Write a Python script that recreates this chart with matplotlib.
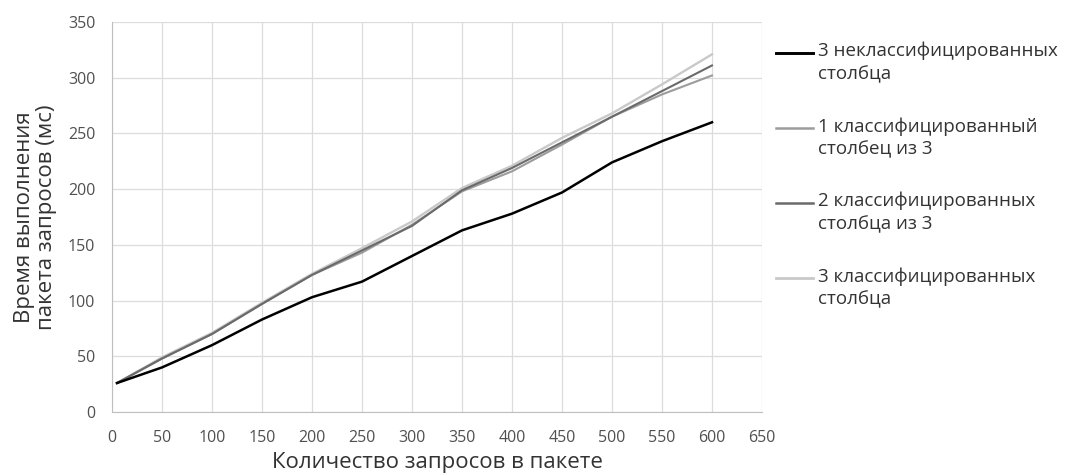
import matplotlib.pyplot as plt
from matplotlib.lines import Line2D

plt.rcParams['font.family'] = ['Open Sans', 'DejaVu Sans']

# requests per batch
x = [5, 50, 100, 150, 200, 250, 300, 350, 400, 450, 500, 550, 600]

# execution time, ms
unclassified_3 = [26, 40, 60, 83, 103, 117, 140, 163, 178, 197, 224, 243, 260]
classified_1_of_3 = [26, 48, 70, 97, 123, 143, 168, 198, 216, 240, 265, 285, 302]
classified_2_of_3 = [26, 48, 70, 97, 123, 145, 167, 199, 219, 242, 265, 288, 311]
classified_3 = [26, 49, 71, 98, 124, 147, 171, 201, 221, 246, 268, 294, 321]

labels = ["3 неклассифицированных\nстолбца",
          "1 классифицированный\nстолбец из 3",
          "2 классифицированных\nстолбца из 3",
          "3 классифицированных\nстолбца"]
colors = ["#000000", "#9c9c9c", "#6a6a6a", "#c9c9c9"]
widths = [1.8, 1.5, 1.5, 1.7]

fig = plt.figure(figsize=(10.69, 4.75), dpi=100)
ax = fig.add_axes([112 / 1069, 1 - 412 / 475, 650 / 1069, 390 / 475])

series = [unclassified_3, classified_1_of_3, classified_2_of_3, classified_3]
for i in [3, 1, 2, 0]:
    ax.plot(x, series[i], color=colors[i], lw=widths[i], solid_joinstyle='round')

ax.set_xlim(0, 650)
ax.set_ylim(0, 350)
ax.set_xticks(range(0, 651, 50))
ax.set_yticks(range(0, 351, 50))
ax.grid(True, color="#dcdcdc", lw=0.9)
ax.set_axisbelow(True)
for s in ["top", "right"]:
    ax.spines[s].set_visible(False)
for s in ["left", "bottom"]:
    ax.spines[s].set_color("#bfbfbf")
ax.tick_params(length=0, labelsize=11.5, labelcolor="#505050")
ax.tick_params(axis="x", pad=13)
ax.tick_params(axis="y", pad=12)

ax.set_xlabel("Количество запросов в пакете", fontsize=16, color="#333333", labelpad=4)
ax.set_ylabel("Время выполнения\nпакета запросов (мс)", fontsize=16, color="#333333",
              labelpad=8, linespacing=1.05)

# legend drawn at the right, handle beside the first line of each label
y0 = 1 - 53 / 475
step = 75 / 475
for i in range(4):
    yy = y0 - i * step
    fig.add_artist(Line2D([776 / 1069, 813 / 1069], [yy, yy], color=colors[i],
                          lw=widths[i] + 0.3, transform=fig.transFigure))
    fig.text(818 / 1069, yy + 11 / 475, labels[i], fontsize=13.5, color="#333333",
             va="top", ha="left", linespacing=1.35)

fig.savefig("out.png", dpi=100, facecolor="white")
